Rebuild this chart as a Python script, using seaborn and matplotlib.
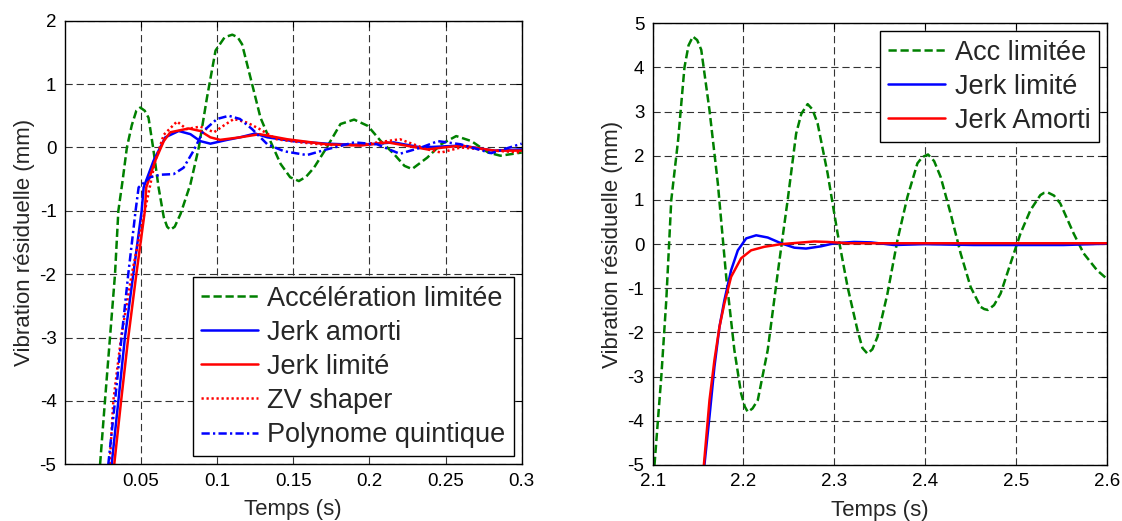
import numpy as np
import pandas as pd
import seaborn as sns
import matplotlib.pyplot as plt

# ---- left plot: reponse aux differentes lois de mouvement (t in s, vibration in mm)
acc_t = [0.0232, 0.0264, 0.0297, 0.033, 0.0352, 0.038, 0.0408, 0.044, 0.047, 0.0496, 0.0525,
         0.055, 0.058, 0.0616, 0.065, 0.0672, 0.0693, 0.0722, 0.076, 0.0825, 0.088, 0.0934,
         0.099, 0.105, 0.11, 0.1135, 0.1164, 0.123, 0.1285, 0.135, 0.1417, 0.148, 0.1537,
         0.1585, 0.1636, 0.172, 0.181, 0.19, 0.199, 0.2075, 0.216, 0.223, 0.228, 0.238, 0.247,
         0.257, 0.267, 0.278, 0.286, 0.3]
acc_v = [-5.0, -4.0, -3.0, -2.0, -1.0, -0.52, 0.0, 0.35, 0.58, 0.63, 0.58,
         0.47, 0.0, -0.63, -1.1, -1.25, -1.3, -1.25, -1.05, -0.58, 0.0, 0.79,
         1.53, 1.74, 1.78, 1.74, 1.63, 1.0, 0.47, 0.1, -0.26, -0.47, -0.53,
         -0.46, -0.32, 0.0, 0.37, 0.44, 0.34, 0.1, -0.1, -0.29, -0.34, -0.16, 0.05,
         0.18, 0.1, -0.08, -0.13, -0.08]

jam_t = [0.0308, 0.0352, 0.0395, 0.045, 0.0505, 0.0518, 0.0583, 0.066, 0.0748, 0.0825, 0.089,
         0.0956, 0.1066, 0.115, 0.125, 0.133, 0.15, 0.172, 0.194, 0.216, 0.234, 0.26, 0.282, 0.3]
jam_v = [-5.0, -4.0, -3.0, -2.0, -1.0, -0.63, -0.21, 0.16, 0.26, 0.21, 0.1,
         0.06, 0.12, 0.16, 0.22, 0.16, 0.1, 0.06, 0.04, 0.08, 0.0, 0.03, -0.05, -0.03]

jlim_t = [0.0325, 0.037, 0.0417, 0.047, 0.0526, 0.0535, 0.0594, 0.065, 0.0693, 0.0814, 0.089,
          0.0956, 0.102, 0.115, 0.128, 0.146, 0.172, 0.194, 0.212, 0.238, 0.26, 0.282, 0.3]
jlim_v = [-5.0, -4.0, -3.0, -2.0, -1.0, -0.63, -0.21, 0.1, 0.24, 0.3, 0.26,
          0.16, 0.12, 0.16, 0.21, 0.13, 0.05, 0.03, 0.08, -0.03, 0.03, -0.05, -0.05]

zv_t = [0.0295, 0.0319, 0.037, 0.044, 0.049, 0.0526, 0.0594, 0.065, 0.0737, 0.08, 0.089, 0.098,
        0.104, 0.111, 0.12, 0.128, 0.139, 0.155, 0.172, 0.194, 0.22, 0.238, 0.247, 0.26, 0.282, 0.3]
zv_v = [-5.0, -4.0, -3.0, -2.0, -1.4, -1.0, -0.21, 0.2, 0.41, 0.29, 0.33, 0.24,
        0.34, 0.45, 0.39, 0.29, 0.13, 0.08, 0.04, 0.04, 0.13, -0.03, -0.08, 0.0, -0.05, -0.08]

poly_t = [0.0286, 0.033, 0.0373, 0.0417, 0.0465, 0.0485, 0.056, 0.0627, 0.0715, 0.078, 0.0846,
          0.091, 0.1, 0.1077, 0.115, 0.123, 0.133, 0.144, 0.159, 0.172, 0.19, 0.205, 0.22,
          0.234, 0.245, 0.26, 0.28, 0.3]
poly_v = [-5.0, -4.0, -3.0, -2.0, -1.0, -0.63, -0.47, -0.43, -0.42, -0.32, -0.05,
          0.26, 0.45, 0.5, 0.45, 0.29, 0.05, -0.06, -0.12, -0.03, 0.08, 0.05, -0.1,
          0.0, 0.1, 0.05, -0.09, 0.06]

# ---- right plot
acc2_t = [2.102, 2.1095, 2.115, 2.1205, 2.128, 2.135, 2.1395, 2.1443, 2.149, 2.1535, 2.1626,
          2.1718, 2.181, 2.19, 2.1974, 2.2015, 2.2048, 2.21, 2.2158, 2.2267, 2.2377, 2.2487,
          2.258, 2.2637, 2.2707, 2.276, 2.2817, 2.2927, 2.3037, 2.3147, 2.3256, 2.331, 2.3366,
          2.342, 2.3476, 2.3586, 2.3696, 2.3806, 2.3916, 2.397, 2.4033, 2.41, 2.4172, 2.4282,
          2.4392, 2.4502, 2.4612, 2.4652, 2.4692, 2.476, 2.4832, 2.4941, 2.5051, 2.5161, 2.527,
          2.531, 2.5352, 2.542, 2.549, 2.5637, 2.5747, 2.5894, 2.6]
acc2_v = [-5.0, -3.0, -1.27, 1.0, 2.35, 4.0, 4.5, 4.7, 4.62, 4.4, 3.03,
          1.37, -0.74, -2.4, -3.38, -3.68, -3.8, -3.72, -3.53, -2.4, -0.66, 1.0,
          2.5, 2.95, 3.17, 3.05, 2.73, 1.6, 0.24, -0.97, -1.95, -2.35, -2.48,
          -2.38, -2.1, -1.12, 0.09, 1.07, 1.83, 1.97, 2.03, 1.88, 1.52, 0.69,
          -0.21, -0.97, -1.42, -1.47, -1.49, -1.38, -1.12, -0.44, 0.24, 0.77, 1.11,
          1.16, 1.17, 1.1, 0.92, 0.24, -0.21, -0.59, -0.78]

jl2_t = [2.157, 2.1626, 2.168, 2.1736, 2.179, 2.1864, 2.1938, 2.203, 2.214, 2.2267, 2.2414,
         2.256, 2.2689, 2.2853, 2.3, 2.322, 2.3403, 2.366, 2.399, 2.4538, 2.5527, 2.6]
jl2_v = [-5.0, -3.9, -2.78, -1.87, -1.27, -0.59, -0.14, 0.13, 0.2, 0.15, 0.02,
         -0.08, -0.1, -0.05, 0.02, 0.05, 0.04, -0.02, 0.0, -0.02, -0.02, 0.01]

ja2_t = [2.1564, 2.1626, 2.168, 2.1736, 2.179, 2.1864, 2.1974, 2.2084, 2.223, 2.2414, 2.2597,
         2.278, 2.2927, 2.3147, 2.38, 2.6]
ja2_v = [-5.0, -3.53, -2.63, -1.87, -1.34, -0.74, -0.32, -0.14, -0.06, 0.0, 0.03,
         0.06, 0.05, 0.02, 0.02, 0.02]

left_xticks = [0.05, 0.1, 0.15, 0.2, 0.25, 0.3]
left_xlabels = ['0.05', '0.1', '0.15', '0.2', '0.25', '0.3']
right_xticks = [2.1, 2.2, 2.3, 2.4, 2.5, 2.6]
right_xlabels = ['2.1', '2.2', '2.3', '2.4', '2.5', '2.6']

GREEN = '#008000'
BLUE = '#0000ff'
RED = '#ff0000'

sns.set_style("white")
plt.rcParams['font.family'] = ['Liberation Sans', 'DejaVu Sans']
plt.rcParams['axes.unicode_minus'] = False

fig = plt.figure(figsize=(11.22, 5.21), dpi=100)
ax1 = fig.add_axes([0.0577, 0.1088, 0.4073, 0.8514])
ax2 = fig.add_axes([0.5817, 0.1075, 0.4046, 0.8478])

lw = 1.8
dash = (0, (3.3, 1.5))
dot = (0, (0.9, 1.1))
dashdot = (0, (3.3, 1.3, 0.9, 1.3))

def draw(ax, t, v, color, ls, label):
    sns.lineplot(x=t, y=v, ax=ax, color=color, linestyle=ls, linewidth=lw,
                 label=label, estimator=None, sort=False)

draw(ax1, acc_t, acc_v, GREEN, dash, 'Accélération limitée')
draw(ax1, jam_t, jam_v, BLUE, '-', 'Jerk amorti')
draw(ax1, jlim_t, jlim_v, RED, '-', 'Jerk limité')
draw(ax1, zv_t, zv_v, RED, dot, 'ZV shaper')
draw(ax1, poly_t, poly_v, BLUE, dashdot, 'Polynome quintique')

draw(ax2, acc2_t, acc2_v, GREEN, dash, 'Acc limitée')
draw(ax2, jl2_t, jl2_v, BLUE, '-', 'Jerk limité')
draw(ax2, ja2_t, ja2_v, RED, '-', 'Jerk Amorti')

ax1.set_xlim(0, 0.3)
ax1.set_ylim(-5, 2)
ax1.set_xticks(left_xticks)
ax1.set_xticklabels(left_xlabels)
ax1.set_yticks(range(-5, 3))

ax2.set_xlim(2.1, 2.6)
ax2.set_ylim(-5, 5)
ax2.set_xticks(right_xticks)
ax2.set_xticklabels(right_xlabels)
ax2.set_yticks(range(-5, 6))

for ax, loc in [(ax1, 'lower right'), (ax2, 'upper right')]:
    ax.grid(True, color='#333333', linestyle=(0, (6.5, 3.5)), linewidth=0.8)
    ax.set_axisbelow(True)
    for s in ax.spines.values():
        s.set_color('black')
        s.set_linewidth(1.0)
    ax.tick_params(direction='in', length=4, width=0.8, top=True, right=True,
                   labelsize=13.5, pad=6, colors='black')
    ax.set_xlabel('Temps (s)', fontsize=16, labelpad=7)
    ax.set_ylabel('Vibration résiduelle (mm)', fontsize=16, labelpad=3)
    leg = ax.legend(loc=loc, fontsize=19.5, frameon=True, fancybox=False,
                    edgecolor='black', framealpha=1, handlelength=2.1,
                    handletextpad=0.35, borderaxespad=0.3, borderpad=0.3,
                    labelspacing=0.3)
    leg.get_frame().set_linewidth(1.0)

fig.savefig('out.png', dpi=100)
